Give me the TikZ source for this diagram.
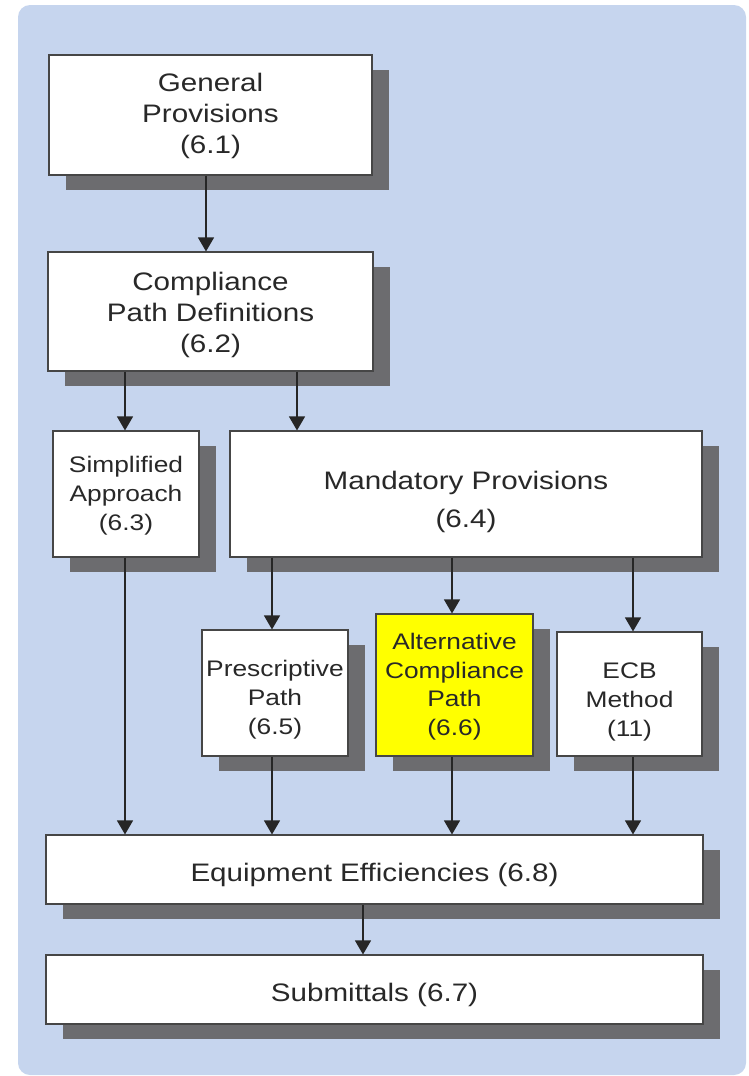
\documentclass[tikz,border=0pt]{standalone}
\usepackage{fontspec}
\setmainfont[FakeStretch=1.17]{Liberation Sans}
\usetikzlibrary{arrows.meta,shadows}
\definecolor{bgblue}{RGB}{198,213,238}
\definecolor{shadowgray}{RGB}{108,108,111}
\definecolor{boxline}{RGB}{70,70,70}
\definecolor{txt}{RGB}{40,40,40}
\definecolor{hl}{RGB}{255,255,0}
\newcommand\lowerby[1]{\rule{0pt}{\dimexpr 0.74em+#1+#1\relax}}
\begin{document}
\begin{tikzpicture}[x=1pt,y=-1pt,
  box/.style={draw=boxline, line width=1.1pt, fill=white, rectangle, inner sep=0pt,
    align=center, text=txt,
    drop shadow={shadow xshift=17pt, shadow yshift=-15pt, fill=shadowgray, opacity=1}},
  big/.style={font=\fontsize{25.3}{31}\selectfont},
  small/.style={font=\fontsize{22.5}{29}\selectfont},
  arr/.style={draw=black!85, line width=1.2pt, -{Triangle[width=16pt,length=14pt]}}]
\useasboundingbox (0,0) rectangle (748,1076);
\fill[bgblue, rounded corners=12pt] (18,5) rectangle (746,1075);

\node[box,big,minimum width=323pt,minimum height=120pt] (gp) at (210.5,115) {\lowerby{0.5pt}General\\Provisions\\(6.1)};
\node[box,big,minimum width=325pt,minimum height=119pt] (cpd) at (210.5,311.5) {\lowerby{3pt}Compliance\\Path Definitions\\(6.2)};
\node[box,small,minimum width=146pt,minimum height=126pt] (sa) at (126,494) {\lowerby{1.5pt}Simplified\\Approach\\(6.3)};
\node[box,big,minimum width=472pt,minimum height=126pt] (mp) at (466,494) {\lowerby{8pt}Mandatory Provisions\\[7pt](6.4)};
\node[box,small,minimum width=146pt,minimum height=126pt] (pp) at (275,693) {\lowerby{6pt}Prescriptive\\Path\\(6.5)};
\node[box,small,fill=hl,minimum width=157pt,minimum height=142pt,font=\fontsize{22.5}{28.5}\selectfont] (ac) at (454.5,685) {\lowerby{1.5pt}Alternative\\Compliance\\Path\\(6.6)};
\node[box,small,minimum width=145pt,minimum height=124pt] (ecb) at (629.5,694) {\lowerby{7pt}ECB\\Method\\(11)};
\node[box,big,minimum width=657pt,minimum height=69pt] (ee) at (374.5,869.5) {\lowerby{5.5pt}Equipment Efficiencies (6.8)};
\node[box,big,minimum width=657pt,minimum height=69pt] (sub) at (374.5,989.5) {\lowerby{5pt}Submittals (6.7)};

\coordinate (x1) at (206,0);
\coordinate (x2) at (125,0);
\coordinate (x3) at (297,0);
\coordinate (x4) at (272,0);
\coordinate (x5) at (452,0);
\coordinate (x6) at (633,0);
\coordinate (x7) at (363,0);

\draw[arr] (gp.south -| x1) -- (cpd.north -| x1);
\draw[arr] (cpd.south -| x2) -- (sa.north -| x2);
\draw[arr] (cpd.south -| x3) -- (mp.north -| x3);
\draw[arr] (mp.south -| x4) -- (pp.north -| x4);
\draw[arr] (mp.south -| x5) -- (ac.north -| x5);
\draw[arr] (mp.south -| x6) -- (ecb.north -| x6);
\draw[arr] (sa.south -| x2) -- (ee.north -| x2);
\draw[arr] (pp.south -| x4) -- (ee.north -| x4);
\draw[arr] (ac.south -| x5) -- (ee.north -| x5);
\draw[arr] (ecb.south -| x6) -- (ee.north -| x6);
\draw[arr] (ee.south -| x7) -- (sub.north -| x7);
\end{tikzpicture}
\end{document}
